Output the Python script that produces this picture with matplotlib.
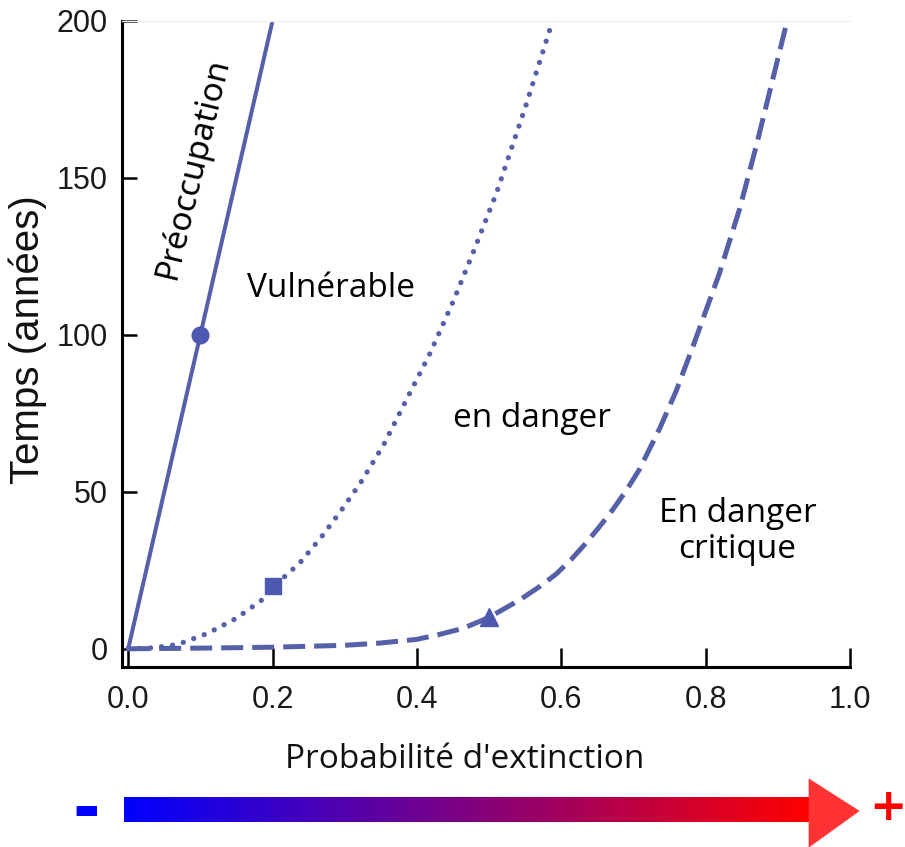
import numpy as np
import matplotlib.pyplot as plt
from matplotlib.patches import Polygon

# Extinction-risk thresholds: time (years) vs. probability of extinction
prob_lc = [0.0, 0.2]
time_lc = [0, 200]

prob_vu = [0.0, 0.035, 0.069, 0.11, 0.149, 0.185, 0.2, 0.238, 0.268, 0.295,
           0.322, 0.354, 0.376, 0.418, 0.451, 0.481, 0.51, 0.551, 0.588]
time_vu = [0, 0.3, 1.4, 4.9, 9.6, 15.5, 19.5, 27.4, 35.7, 44,
           52.9, 65, 75, 94, 111, 128, 145, 173, 200]

prob_en = [0.0, 0.1, 0.2, 0.3, 0.348, 0.4, 0.43, 0.464, 0.5, 0.542, 0.57,
           0.593, 0.614, 0.634, 0.652, 0.671, 0.69, 0.708, 0.736, 0.759,
           0.782, 0.819, 0.847, 0.87, 0.884, 0.913]
time_en = [0, 0.2, 0.5, 1.1, 1.8, 3.0, 4.5, 6.5, 10, 15.5, 19.8,
           23.8, 28.5, 33.6, 38.6, 44.2, 50.4, 57, 70, 82,
           96, 119.5, 140, 160, 173, 200]

# Threshold markers
marker_prob = [0.1, 0.2, 0.5]
marker_time = [100, 20, 10]
marker_shapes = ['o', 's', '^']

x_ticks = [0.0, 0.2, 0.4, 0.6, 0.8, 1.0]
x_tick_labels = ['0.0', '0.2', '0.4', '0.6', '0.8', '1.0']
y_ticks = [0, 50, 100, 150, 200]
y_tick_labels = ['0', '50', '100', '150', '200']

LINE = '#5660a8'
MARK = '#4d59b0'
TEXT_FONT = ['Open Sans', 'DejaVu Sans']
TICK_FONT = ['Liberation Sans', 'DejaVu Sans']

W, H = 905, 847
fig = plt.figure(figsize=(W / 100, H / 100), dpi=100)
fig.patch.set_facecolor('white')

ax = fig.add_axes([121.7 / W, 1 - 667.3 / H, (850 - 121.7) / W, (667.3 - 20.7) / H])

ax.plot(prob_lc, time_lc, color=LINE, lw=2.9, solid_capstyle='butt')
ax.plot(prob_vu, time_vu, color=LINE, lw=3.8, linestyle=(0, (0.01, 2.1)),
        dash_capstyle='round', solid_joinstyle='round')
ax.plot(prob_en, time_en, color=LINE, lw=3.6, linestyle=(0, (4.4, 1.8)),
        dash_capstyle='butt', dash_joinstyle='round')
for px, ty, m in zip(marker_prob, marker_time, marker_shapes):
    ax.plot([px], [ty], marker=m, color=MARK, ms=12 if m != '^' else 13,
            mec=MARK, ls='none', zorder=5)

ax.set_xlim(-0.009, 1.0)
ax.set_ylim(-5.9, 200)
ax.set_xticks(x_ticks)
ax.set_xticklabels(x_tick_labels, fontfamily=TICK_FONT)
ax.set_yticks(y_ticks)
ax.set_yticklabels(y_tick_labels, fontfamily=TICK_FONT)
ax.tick_params(axis='x', direction='in', length=13.7, width=1.8, pad=13,
               labelsize=22, labelcolor='#1a1a1a')
ax.tick_params(axis='y', direction='in', length=10.8, width=1.8, pad=10,
               labelsize=22, labelcolor='#1a1a1a')
for s in ('left', 'bottom'):
    ax.spines[s].set_linewidth(2.2)
    ax.spines[s].set_color('black')
ax.spines['right'].set_visible(False)
ax.spines['top'].set_color('#f0f0f0')
ax.spines['top'].set_linewidth(1.0)

# Region labels
ax.text(0.0896, 153, 'Préoccupation', rotation=76.5, rotation_mode='anchor',
        ha='center', va='center', fontsize=24, fontstyle='normal',
        fontfamily=['Noto Sans', 'DejaVu Sans'])
ax.text(0.2806, 112, 'Vulnérable', ha='center', va='baseline',
        fontsize=24, fontfamily=TEXT_FONT)
ax.text(0.559, 70.7, 'en danger', ha='center', va='baseline',
        fontsize=24, fontfamily=TEXT_FONT)
ax.text(0.844, 40.3, 'En danger', ha='center', va='baseline',
        fontsize=24, fontfamily=TEXT_FONT)
ax.text(0.844, 28.9, 'critique', ha='center', va='baseline',
        fontsize=24, fontfamily=TEXT_FONT)

# Axis titles
fig.text(28 / W, 1 - 340 / H, 'Temps (années)', rotation=90, ha='center',
         va='center', fontsize=29, fontfamily=TICK_FONT, color='#111111')
fig.text(465 / W, 1 - 768 / H, "Probabilité d'extinction", ha='center',
         va='baseline', fontsize=24, fontfamily=TEXT_FONT, color='#111111')

# Risk gradient arrow along the bottom
over = fig.add_axes([0, 0, 1, 1], zorder=-1)
over.set_axis_off()
grad = np.linspace(0, 1, 256)
rgb = np.zeros((1, 256, 3))
rgb[0, :, 0] = grad
rgb[0, :, 2] = 1 - grad
over.imshow(rgb, extent=[124, 810, 822, 797], aspect='auto', interpolation='bilinear')
over.add_patch(Polygon([[809, 779], [859, 811], [809, 847]], closed=True,
                       facecolor='#ff3333', edgecolor='#ff3333', lw=0.5))
over.set_xlim(0, W)
over.set_ylim(H, 0)
over.text(86, 812, '-', ha='center', va='center', fontsize=48,
          fontweight='bold', color='#0000ff', fontfamily='DejaVu Sans')
over.text(888, 808, '+', ha='center', va='center', fontsize=32,
          fontweight='bold', color='#ff0000', fontfamily='DejaVu Sans')

fig.savefig('out.png', dpi=100, facecolor='white')
